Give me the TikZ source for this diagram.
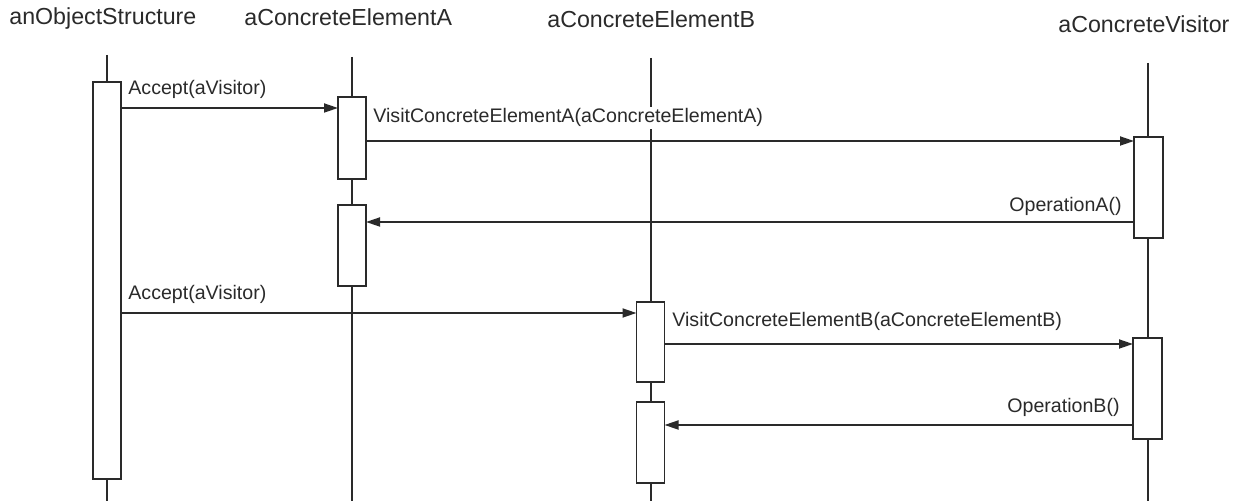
\documentclass[tikz,border=0pt]{standalone}
\usepackage{fontspec}
\setmainfont{Liberation Sans}
\usetikzlibrary{arrows.meta}
\definecolor{ink}{HTML}{2A2A2A}
\begin{document}
\begin{tikzpicture}[x=0.5pt,y=-0.5pt,
  lifeline/.style={draw=ink,line width=0.9pt},
  act/.style={draw=ink,fill=white,line width=0.9pt,rectangle,inner sep=0pt,outer sep=0pt,minimum width=14pt},
  msg/.style={draw=ink,line width=0.9pt,-{Triangle[length=7pt,width=4.5pt]}},
  head/.style={anchor=base west,inner sep=0pt,text=ink,font=\fontsize{11.6}{13}\selectfont},
  lbl/.style={inner sep=1pt,text=ink,fill=white,font=\fontsize{9.8}{12}\selectfont}]
\useasboundingbox (0,0) rectangle (1244,501);
\fill[white] (0,0) rectangle (1244,501);

% headers
\node[head] (hobj) at (9,25) {anObjectStructure};
\node[head] (hA) at (244,26) {aConcreteElementA};
\node[head] (hB) at (547,28) {aConcreteElementB};
\node[head] (hV) at (1058,33) {aConcreteVisitor};

% lifeline ends
\coordinate (objT) at (107,55);  \coordinate (objE) at (107,501);
\coordinate (aT) at (352,57);    \coordinate (aE) at (352,501);
\coordinate (bT) at (651,58);    \coordinate (bE) at (651,501);
\coordinate (vT) at (1148,63);   \coordinate (vE) at (1148,501);
\draw[lifeline] (objT) -- (objE);
\draw[lifeline] (aT) -- (aE);
\draw[lifeline] (bT) -- (bE);
\draw[lifeline] (vT) -- (vE);

% activation boxes
\node[act,minimum height=198.5pt] (obj) at (107,280.5) {};
\node[act,minimum height=41pt] (A1) at (352,138) {};
\node[act,minimum height=40.5pt] (A2) at (352,245.5) {};
\node[act,minimum height=40pt] (B1) at (650.5,342) {};
\node[act,minimum height=40.5pt] (B2) at (650.5,442.5) {};
\node[act,minimum height=50.5pt,minimum width=14.5pt] (VA) at (1148.5,187.5) {};
\node[act,minimum height=50.5pt,minimum width=14.5pt] (VB) at (1147.5,388.5) {};

% message levels
\coordinate (m1) at (0,108);
\coordinate (m2) at (0,141);
\coordinate (m3) at (0,222);
\coordinate (m4) at (0,313);
\coordinate (m5) at (0,344);
\coordinate (m6) at (0,425);

\draw[msg] (obj.east |- m1) -- (A1.west |- m1);
\draw[msg] (A1.east |- m2) -- (VA.west |- m2);
\draw[msg] (VA.west |- m3) -- (A2.east |- m3);
\draw[msg] (obj.east |- m4) -- (B1.west |- m4);
\draw[msg] (B1.east |- m5) -- (VB.west |- m5);
\draw[msg] (VB.west |- m6) -- (B2.east |- m6);

% labels
\node[lbl,anchor=base west] (l1) at (126,95) {Accept(aVisitor)};
\node[lbl,anchor=base west] (l2) at (371,123) {VisitConcreteElementA(aConcreteElementA)};
\node[lbl,anchor=base east] (l3) at (1124,212) {OperationA()};
\node[lbl,anchor=base west] (l4) at (126,300) {Accept(aVisitor)};
\node[lbl,anchor=base west] (l5) at (670,327) {VisitConcreteElementB(aConcreteElementB)};
\node[lbl,anchor=base east] (l6) at (1122,413) {OperationB()};
\end{tikzpicture}
\end{document}
